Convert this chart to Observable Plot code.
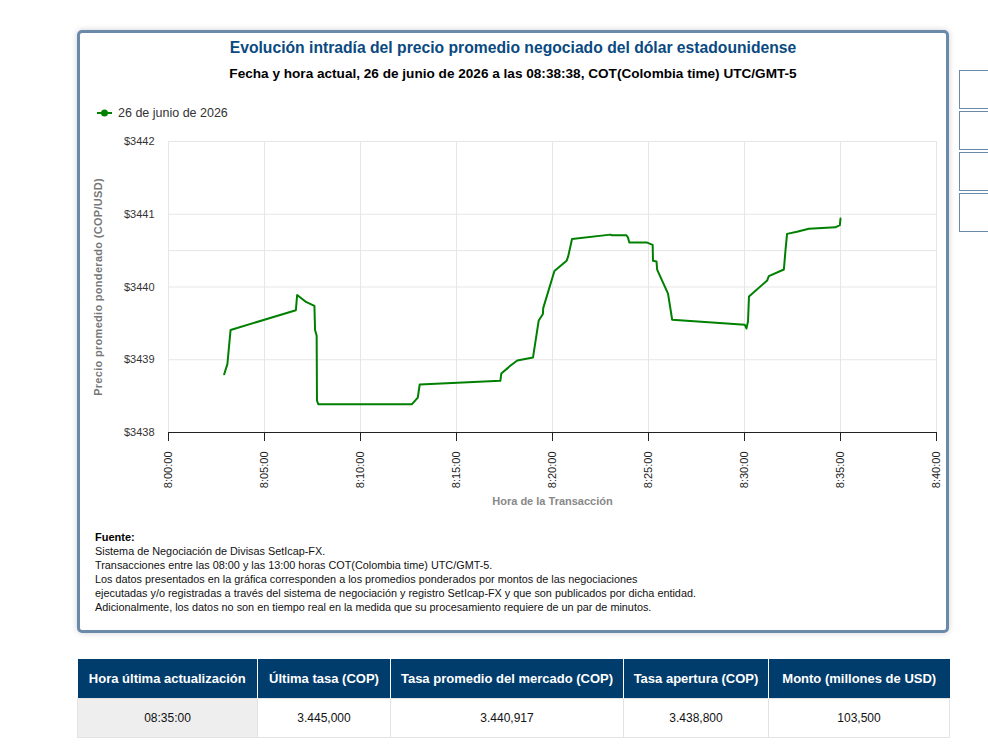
<!DOCTYPE html>
<html lang="es">
<head>
<meta charset="utf-8">
<script src="https://cdn.jsdelivr.net/npm/d3@7"></script>
<script src="https://cdn.jsdelivr.net/npm/@observablehq/plot@0.6"></script>
<style>
  html, body { margin: 0; padding: 0; background: #fff; width: 988px; height: 752px; overflow: hidden; font-family: "Liberation Sans", Arial, sans-serif; }
  .card { position: absolute; left: 77px; top: 30px; width: 866px; height: 597px; border: 3px solid #6b8aa9; border-radius: 5px; box-shadow: 0 0 6px rgba(0,0,0,0.18); background: #fff; }
  .title { position: absolute; left: 0; top: 5px; width: 866px; text-align: center; font-weight: bold; font-size: 15.7px; line-height: 20px; color: #0a4a80; }
  .subtitle { position: absolute; left: 0; top: 32px; width: 866px; text-align: center; font-weight: bold; font-size: 13.6px; line-height: 18px; color: #000; }
  .legend { position: absolute; left: 17px; top: 71px; height: 18px; display: flex; align-items: center; font-size: 12.5px; color: #333; }
  .legend svg { margin-right: 6px; }
  #chart { position: absolute; left: 0; top: 92px; }
  .ylab { letter-spacing: 0.3px; }
  .footer { position: absolute; left: 15px; top: 497px; font-size: 10.85px; line-height: 14px; color: #111; }
  .footer b { color: #000; font-size: 11px; }
  .side { position: absolute; left: 959px; width: 60px; height: 37px; border: 1px solid #6b8aa9; background: #fff; }
  table.tbl { position: absolute; left: 77px; top: 659px; width: 872px; border-collapse: collapse; table-layout: fixed; }
  table.tbl th { background: #003c6c; color: #fff; font-weight: bold; font-size: 13px; height: 39px; border-left: 1px solid #fff; padding: 0; text-align: center; }
  table.tbl th:first-child { border-left: none; }
  table.tbl td { height: 38px; font-size: 12px; color: #111; text-align: center; border: 1px solid #e3e3e3; padding: 0; }
  table.tbl td.first { background: #eeeeee; }
</style>
</head>
<body>
<div class="side" style="top:70px"></div>
<div class="side" style="top:111px"></div>
<div class="side" style="top:152px"></div>
<div class="side" style="top:193px"></div>

<div class="card">
  <div class="title">Evolución intradía del precio promedio negociado del dólar estadounidense</div>
  <div class="subtitle">Fecha y hora actual, 26 de junio de 2026 a las 08:38:38, COT(Colombia time) UTC/GMT-5</div>
  <div class="legend" id="legend"></div>
  <div id="chart"></div>
  <div class="footer">
    <b>Fuente:</b><br>
    Sistema de Negociación de Divisas SetIcap-FX.<br>
    Transacciones entre las 08:00 y las 13:00 horas COT(Colombia time) UTC/GMT-5.<br>
    Los datos presentados en la gráfica corresponden a los promedios ponderados por montos de las negociaciones<br>
    ejecutadas y/o registradas a través del sistema de negociación y registro SetIcap-FX y que son publicados por dicha entidad.<br>
    Adicionalmente, los datos no son en tiempo real en la medida que su procesamiento requiere de un par de minutos.
  </div>
</div>

<table class="tbl" id="tbl">
  <colgroup>
    <col style="width:180px"><col style="width:133px"><col style="width:233px"><col style="width:145px"><col style="width:181px">
  </colgroup>
  <thead><tr id="thead"></tr></thead>
  <tbody><tr id="tbody"></tr></tbody>
</table>

<script>
// ---- Data ----
const seriesName = "26 de junio de 2026";
const times = [
  "08:02:54","08:03:04","08:03:14","08:06:38","08:06:42","08:07:08","08:07:36","08:07:38","08:07:43","08:07:44",
  "08:07:48","08:12:41","08:12:59","08:13:05","08:17:17","08:17:20","08:17:49","08:18:10","08:18:59","08:19:17",
  "08:19:30","08:19:31","08:20:06","08:20:44","08:20:49","08:21:01","08:23:01","08:23:06","08:23:51","08:23:56",
  "08:24:00","08:24:56","08:25:13","08:25:14","08:25:25","08:25:27","08:26:01","08:26:14","08:30:01","08:30:06",
  "08:30:11","08:30:14","08:31:11","08:31:16","08:32:03","08:32:08","08:32:13","08:32:44","08:33:21","08:34:44",
  "08:34:58","08:35:00"
];
const prices = [
  3438.80,3438.94,3439.41,3439.68,3439.89,3439.80,3439.74,3439.41,3439.33,3438.44,
  3438.39,3438.39,3438.48,3438.66,3438.71,3438.81,3438.92,3438.99,3439.03,3439.54,
  3439.63,3439.71,3440.22,3440.36,3440.42,3440.66,3440.72,3440.71,3440.71,3440.68,
  3440.61,3440.61,3440.58,3440.36,3440.35,3440.24,3439.91,3439.55,3439.48,3439.43,
  3439.53,3439.87,3440.09,3440.15,3440.24,3440.50,3440.73,3440.76,3440.80,3440.82,
  3440.85,3440.94
];
const xTickLabels = ["8:00:00","8:05:00","8:10:00","8:15:00","8:20:00","8:25:00","8:30:00","8:35:00","8:40:00"];
const yTicks = [3438, 3439, 3440, 3441, 3442];
const yGrid = [3439, 3440, 3440.5, 3441, 3442];
const yLabel = "Precio promedio ponderado (COP/USD)";
const xLabel = "Hora de la Transacción";
const tableHeaders = ["Hora última actualización","Última tasa (COP)","Tasa promedio del mercado (COP)","Tasa apertura (COP)","Monto (millones de USD)"];
const tableValues = ["08:35:00","3.445,000","3.440,917","3.438,800","103,500"];

// ---- Build ----
const toDate = s => { const [h,m,sec] = s.split(":").map(Number); return new Date(2026, 5, 26, h, m, sec); };
const data = times.map((t, i) => ({time: toDate(t), price: prices[i]}));
const xTicks = xTickLabels.map(toDate);
const fmt = d3.timeFormat("%-H:%M:%S");

const chart = Plot.plot({
  width: 866,
  height: 390,
  marginLeft: 88,
  marginRight: 10,
  marginTop: 16,
  marginBottom: 83,
  style: {fontFamily: "'Liberation Sans', Arial, sans-serif", fontSize: "11px", color: "#333", background: "transparent", overflow: "visible"},
  x: {type: "time", domain: [xTicks[0], xTicks[xTicks.length - 1]]},
  y: {domain: [yTicks[0], yTicks[yTicks.length - 1]]},
  marks: [
    Plot.ruleY(yGrid, {stroke: "#e6e6e6", strokeWidth: 1}),
    Plot.ruleX(xTicks, {stroke: "#e6e6e6", strokeWidth: 1}),
    Plot.axisY({ticks: yTicks, tickSize: 0, tickPadding: 14, tickFormat: d => "$" + d, label: null, fill: "#333"}),
    Plot.axisX({ticks: xTicks, tickSize: 9, tickPadding: 10, tickRotate: -90, tickFormat: fmt, label: null, stroke: "#222", fill: "#222", strokeOpacity: 1}),
    Plot.ruleY([yTicks[0]], {stroke: "#222", strokeWidth: 1}),
    Plot.line(data, {x: "time", y: "price", stroke: "#008000", strokeWidth: 2}),
    Plot.text([yLabel], {frameAnchor: "left", textAnchor: "middle", rotate: -90, dx: -70, fontWeight: "bold", fill: "#777", fontSize: 11, className: "ylab"}),
    Plot.text([xLabel], {frameAnchor: "bottom", dy: 72, fontWeight: "bold", fill: "#888", fontSize: 11})
  ]
});
document.getElementById("chart").appendChild(chart);

// legend
const lg = document.getElementById("legend");
lg.innerHTML = `<svg width="15" height="10"><line x1="0" y1="5" x2="15" y2="5" stroke="#008000" stroke-width="2"/><circle cx="7.5" cy="5" r="3.5" fill="#008000"/></svg><span>${seriesName}</span>`;

// table
document.getElementById("thead").innerHTML = tableHeaders.map(h => `<th>${h}</th>`).join("");
document.getElementById("tbody").innerHTML = tableValues.map((v, i) => `<td class="${i === 0 ? "first" : ""}">${v}</td>`).join("");
</script>
</body>
</html>
